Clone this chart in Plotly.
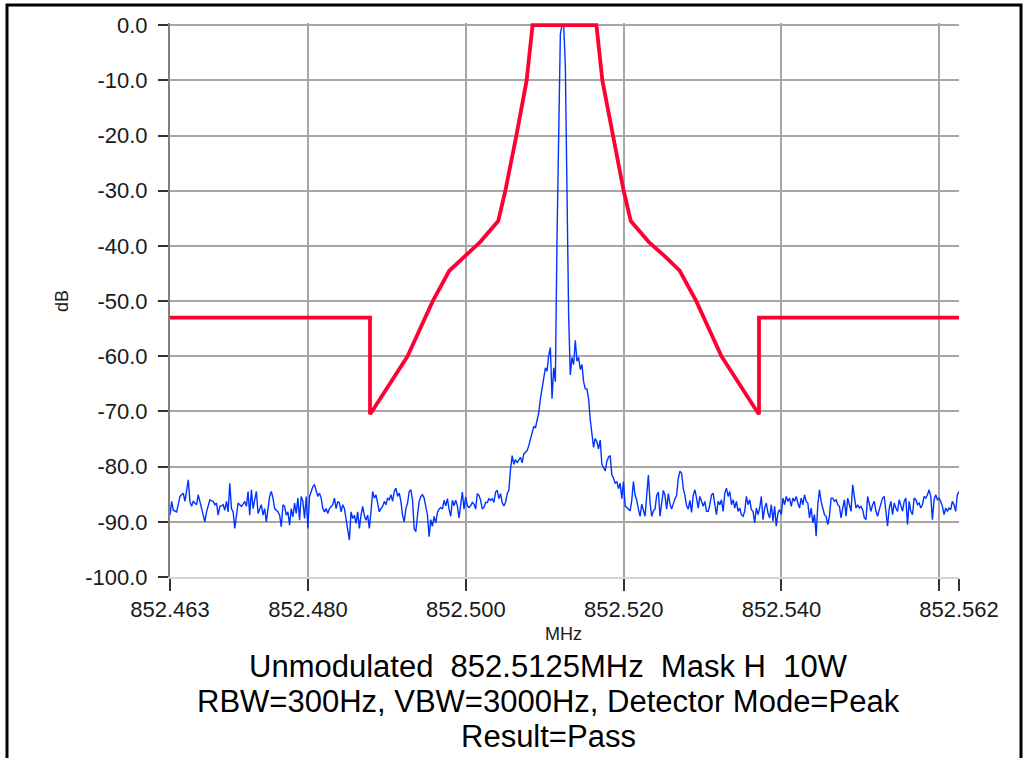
import numpy as np
import plotly.graph_objects as go

# ---------------- data ----------------
sweep_start_mhz = 852.4625
sweep_stop_mhz = 852.5625

# measured trace (dB), equally spaced sweep points from start to stop
trace_db = [
    -88.8, -86.3, -87.9, -88.0, -88.2, -86.8, -85.4, -85.1, -84.8, -86.3,
    -84.2, -82.4, -86.3, -87.2, -86.3, -86.6, -86.9, -85.1, -86.3, -87.6,
    -88.8, -90.0, -88.2, -87.2, -86.0, -86.2, -86.3, -86.9, -86.6, -88.8,
    -87.2, -87.1, -86.9, -87.9, -86.3, -88.2, -83.0, -87.6, -88.2, -91.2,
    -88.8, -86.6, -86.9, -87.2, -86.8, -86.3, -87.2, -84.5, -88.8, -84.2,
    -87.6, -86.3, -84.5, -88.5, -87.6, -86.9, -88.8, -87.6, -90.0, -87.6,
    -85.4, -84.5, -85.7, -87.6, -87.9, -88.2, -88.8, -90.9, -86.9, -87.2,
    -88.8, -88.2, -90.6, -87.6, -89.1, -86.6, -88.5, -85.7, -89.7, -85.4,
    -86.3, -89.4, -85.4, -91.2, -85.4, -84.5, -83.6, -83.3, -84.5, -85.4,
    -84.8, -85.7, -87.6, -88.2, -87.6, -88.5, -87.6, -87.2, -86.9, -85.7,
    -87.6, -86.3, -86.6, -88.2, -86.9, -87.6, -89.4, -91.8, -93.3, -88.2,
    -89.4, -88.8, -90.3, -88.2, -91.2, -88.8, -87.2, -88.8, -89.7, -88.8,
    -91.2, -88.2, -84.5, -85.7, -85.1, -86.6, -88.2, -87.6, -87.2, -86.3,
    -86.9, -85.7, -86.0, -85.1, -86.3, -84.5, -83.9, -85.4, -84.8, -86.3,
    -88.8, -90.0, -87.6, -86.6, -84.5, -84.2, -86.0, -91.2, -91.8, -88.8,
    -86.3, -85.4, -85.1, -85.7, -87.6, -88.8,
    # centre section
    -92.7, -89.6, -90.8, -89.0, -90.2, -88.3, -87.7, -87.4, -87.7, -86.1,
    -87.1, -85.8, -87.7, -89.0, -86.1, -87.1, -86.1, -87.1, -89.3, -86.8,
    -84.6, -87.7, -85.5, -87.1, -87.4, -87.1, -86.5, -86.8, -87.7, -84.9,
    -85.2, -86.1, -87.7, -87.4, -86.5, -86.5, -85.8, -86.1, -85.8, -86.5,
    -84.6, -84.3, -85.8, -84.9, -86.5, -87.1, -86.5, -84.9, -84.3, -80.5,
    -78.0, -79.6, -78.7, -79.3, -78.7, -78.3, -79.3, -77.7, -77.4, -77.1,
    -76.2, -74.9, -74.0, -72.7, -73.0, -71.5, -70.2, -67.7, -65.9, -64.0,
    -62.1, -62.7, -59.9, -58.4, -67.7, -62.1, -64.6, -38.4, -20.9, -1.6,
    0.0, 0.0, -7.2, -35.3, -52.7, -63.4, -60.2, -61.5, -57.1, -60.9,
    -60.2, -62.4, -61.5, -64.6, -65.9, -65.9, -67.7, -71.5, -74.6, -76.5,
    -74.9, -75.5, -76.8, -75.2, -79.6, -80.2, -80.8, -79.0, -78.3, -78.0,
    -81.5, -82.1, -83.0, -82.7, -84.0, -83.0, -85.8, -82.7, -87.1, -87.4,
    -87.7, -88.0, -86.1, -82.7, -85.2, -86.1, -87.7, -89.0, -86.8, -87.7,
    -89.0, -85.2, -81.5, -86.5, -89.0, -88.0, -87.7, -85.2, -84.6, -89.0,
    -86.5, -84.3, -85.2, -87.7, -84.9, -86.8, -87.7, -86.5, -85.8, -85.2,
    -82.1, -80.8, -81.2, -84.0, -85.2, -87.1, -87.7, -86.1, -88.3, -85.2,
    # right section
    -84.2, -85.7, -87.5, -85.4, -86.3, -87.2, -86.3, -88.1, -88.1, -86.9,
    -85.1, -84.8, -86.9, -88.7, -86.3, -86.9, -86.0, -88.1, -84.8, -83.9,
    -85.4, -84.5, -86.9, -86.0, -87.5, -86.3, -88.1, -87.5, -88.7, -89.0,
    -88.1, -85.4, -86.9, -86.0, -87.8, -88.1, -90.2, -87.5, -88.7, -87.5,
    -85.4, -89.6, -87.5, -86.6, -88.4, -89.3, -86.9, -89.9, -87.2, -90.8,
    -88.4, -87.8, -88.7, -85.7, -86.9, -85.4, -86.3, -85.7, -87.2, -85.7,
    -86.3, -85.4, -86.6, -87.5, -85.7, -86.9, -85.1, -86.3, -86.6, -89.3,
    -87.5, -90.2, -88.7, -92.6, -86.9, -84.2, -86.3, -87.5, -88.7, -89.0,
    -90.5, -89.0, -85.7, -85.7, -86.3, -86.0, -86.9, -87.2, -89.3, -87.5,
    -86.0, -89.0, -85.7, -86.9, -88.1, -83.3, -85.7, -87.5, -86.9, -87.5,
    -87.2, -87.8, -89.3, -89.6, -85.4, -86.9, -88.1, -86.9, -86.3, -88.1,
    -89.0, -87.8, -86.6, -85.7, -85.4, -88.1, -90.8, -87.5, -86.3, -88.7,
    -86.6, -87.5, -88.1, -86.0, -87.2, -88.1, -86.3, -85.7, -90.5, -86.3,
    -88.1, -88.7, -85.7, -86.0, -86.9, -86.6, -87.5, -86.9, -85.4, -85.7,
    -85.1, -84.2, -85.4, -89.6, -86.0, -85.1, -86.0, -85.7, -86.3, -87.2,
    -88.7, -87.5, -88.1, -87.5, -87.8, -86.3, -86.9, -88.1, -85.1, -84.5,
]

# emission mask (MHz, dB)
mask_freq = [
    852.4625, 852.48785, 852.48785, 852.4881, 852.4926, 852.4958, 852.4979,
    852.4997, 852.5018, 852.5041, 852.5050, 852.5064, 852.5077, 852.50845,
    852.51655, 852.5173, 852.5186, 852.5200, 852.5209, 852.5232, 852.5253,
    852.5271, 852.5292, 852.5324, 852.5369, 852.53715, 852.53715, 852.5625,
]
mask_db = [
    -53.0, -53.0, -70.5, -70.0, -60.0, -50.0, -44.5,
    -42.0, -39.3, -35.5, -30.0, -20.0, -10.0, 0.0,
    0.0, -10.0, -20.0, -30.0, -35.5, -39.3, -42.0,
    -44.5, -50.0, -60.0, -70.0, -70.5, -53.0, -53.0,
]

x_tickvals = [852.4625, 852.480, 852.500, 852.520, 852.540, 852.560, 852.5625]
x_ticktext = ["852.463", "852.480", "852.500", "852.520", "852.540", "", "852.562"]
y_tickvals = [0, -10, -20, -30, -40, -50, -60, -70, -80, -90, -100]
y_ticktext = ["0.0", "-10.0", "-20.0", "-30.0", "-40.0", "-50.0", "-60.0",
              "-70.0", "-80.0", "-90.0", "-100.0"]

x_title = "MHz"
y_title = "dB"
title_lines = [
    "Unmodulated\u00a0\u00a0852.5125MHz\u00a0\u00a0Mask H\u00a0\u00a010W",
    "RBW=300Hz, VBW=3000Hz, Detector Mode=Peak",
    "Result=Pass",
]

# ---------------- figure ----------------
freq = np.linspace(sweep_start_mhz, sweep_stop_mhz, len(trace_db))

FONT = "Liberation Sans, Arial, sans-serif"

fig = go.Figure()
fig.add_trace(go.Scatter(
    x=freq, y=trace_db, mode="lines",
    line=dict(color="#0033ff", width=1.4),
    showlegend=False, hoverinfo="skip",
))
fig.add_trace(go.Scatter(
    x=mask_freq, y=mask_db, mode="lines",
    line=dict(color="#ff0033", width=3.8),
    showlegend=False, hoverinfo="skip",
))

# the page margin is removed (post_script below), so page px == figure px
W, H = 1028, 758
plot_left, plot_right, plot_top, plot_bottom = 170, 959, 23, 577  # page pixels
ml = plot_left
mr = W - plot_right
mt = plot_top
mb = H - plot_bottom
pw, ph = W - ml - mr, H - mt - mb


def px_x(px):
    return (px - ml) / pw


def px_y(py):
    return (H - mb - py) / ph


fig.update_layout(
    width=W, height=H,
    margin=dict(l=ml, r=mr, t=mt, b=mb, pad=0, autoexpand=False),
    paper_bgcolor="white", plot_bgcolor="white",
    font=dict(family=FONT, color="#1a1a1a"),
    hovermode=False,
    xaxis=dict(
        range=[sweep_start_mhz, sweep_stop_mhz],
        tickmode="array", tickvals=x_tickvals, ticktext=x_ticktext,
        showgrid=True, gridcolor="#a6a6a6", gridwidth=2,
        showline=True, linecolor="#d4d4d4", linewidth=2,
        ticks="outside", ticklen=12, tickwidth=2, tickcolor="#333333",
        ticklabelstandoff=0, automargin=False,
        tickfont=dict(size=22, family=FONT, color="#1a1a1a"),
        zeroline=False, fixedrange=True,
    ),
    yaxis=dict(
        range=[-100, 0.4],
        tickmode="array", tickvals=y_tickvals, ticktext=y_ticktext,
        showgrid=True, gridcolor="#a6a6a6", gridwidth=2,
        showline=True, linecolor="#7f7f7f", linewidth=2,
        ticks="outside", ticklen=10, tickwidth=2, tickcolor="#333333",
        ticklabelstandoff=6, automargin=False,
        tickfont=dict(size=22, family=FONT, color="#1a1a1a"),
        zeroline=False, fixedrange=True,
    ),
    shapes=[
        dict(type="rect", xref="paper", yref="paper",
             x0=px_x(7), x1=px_x(1021), y0=px_y(5), y1=px_y(900),
             line=dict(color="black", width=3), fillcolor="rgba(0,0,0,0)",
             layer="above"),
    ],
    annotations=[
        dict(text=y_title, xref="paper", yref="paper", x=px_x(62), y=px_y(301),
             textangle=-90, showarrow=False, font=dict(size=18, family=FONT),
             xanchor="center", yanchor="middle"),
        dict(text=x_title, xref="paper", yref="paper", x=px_x(563), y=px_y(634),
             showarrow=False, font=dict(size=18, family=FONT),
             xanchor="center", yanchor="middle"),
    ] + [
        dict(text=t, xref="paper", yref="paper", x=px_x(548), y=px_y(cy),
             showarrow=False, font=dict(size=31, family=FONT, color="black"),
             xanchor="center", yanchor="middle")
        for t, cy in zip(title_lines, [666, 701, 736])
    ],
)

fig.write_html(
    "out.html",
    config={"displayModeBar": False, "staticPlot": True},
    post_script="document.body.style.margin='0';document.body.style.overflow='hidden';",
)
